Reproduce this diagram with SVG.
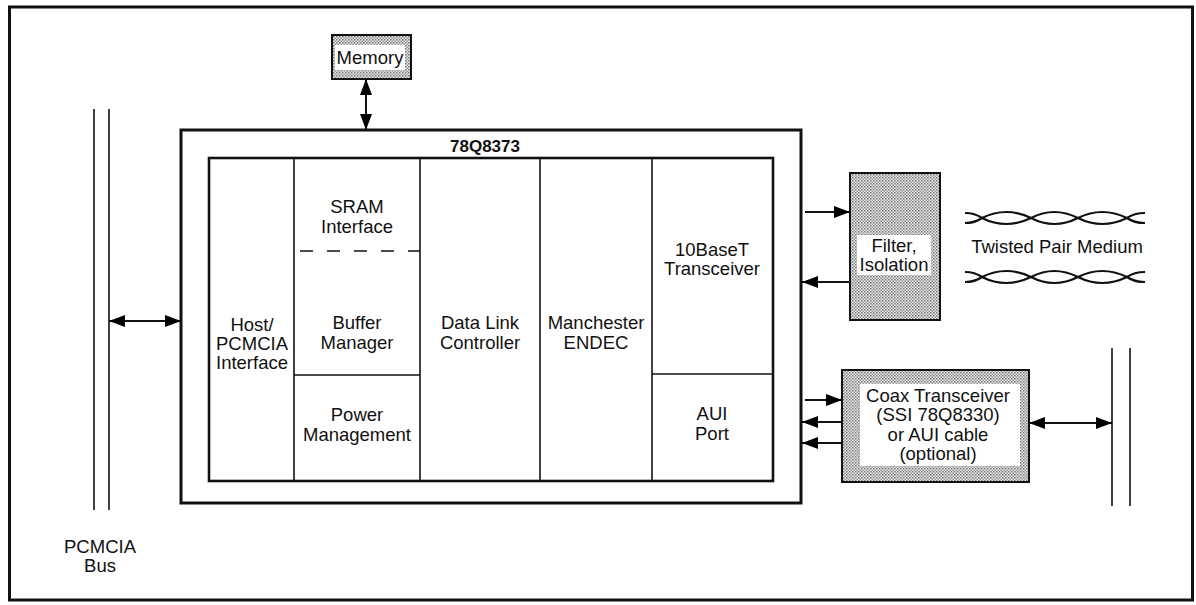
<svg xmlns="http://www.w3.org/2000/svg" width="1196" height="605" viewBox="0 0 1196 605">
<defs>
<pattern id="stip" width="3" height="3" patternUnits="userSpaceOnUse">
<rect width="3" height="3" fill="#e8e8e8"/>
<rect x="0" y="0" width="1.5" height="1.5" fill="#777"/>
<rect x="1.5" y="1.5" width="1.5" height="1.5" fill="#999"/>
</pattern>
<marker id="ah" markerUnits="userSpaceOnUse" markerWidth="16" markerHeight="12" viewBox="0 0 16 12" refX="16" refY="6" orient="auto-start-reverse">
<path d="M0,0 L16,6 L0,12 z" fill="#000"/>
</marker>
</defs>
<style>
text{font-family:"Liberation Sans",Arial,Helvetica,sans-serif;font-size:18.5px;fill:#111;text-anchor:middle}
.b{font-weight:bold;font-size:17px}
.box{fill:none;stroke:#111}
.sh{fill:url(#stip);stroke:#111;stroke-width:2}
.w{fill:#fff;stroke:none}
.ln{stroke:#111;stroke-width:1.6;fill:none}
.ar{stroke:#111;stroke-width:2;fill:none}
.tp{stroke:#111;stroke-width:2.2;fill:none}
</style>
<rect width="1196" height="605" fill="#fff"/>
<rect x="9.5" y="7" width="1183" height="593" fill="none" stroke="#111" stroke-width="3"/>

<g id="pcmcia-bus">
<line x1="94" y1="109" x2="94" y2="510" class="ln" stroke-width="2"/>
<line x1="109" y1="109" x2="109" y2="510" class="ln" stroke-width="2"/>
<text x="100" y="553">PCMCIA</text>
<text x="100" y="572">Bus</text>
</g>

<g id="memory">
<rect x="332" y="35" width="79" height="44" class="sh"/>
<rect x="335" y="45" width="70" height="25" class="w"/>
<text x="370" y="64">Memory</text>
</g>

<g id="chip-78Q8373">
<rect x="181" y="130" width="620" height="373" class="box" stroke-width="3"/>
<text x="485" y="152" class="b">78Q8373</text>
<rect x="209" y="158" width="564" height="323" class="box" stroke-width="2.6"/>
<line x1="294" y1="158" x2="294" y2="481" class="ln"/>
<line x1="420" y1="158" x2="420" y2="481" class="ln"/>
<line x1="540" y1="158" x2="540" y2="481" class="ln"/>
<line x1="652" y1="158" x2="652" y2="481" class="ln"/>
<line x1="294" y1="251" x2="420" y2="251" class="ln" stroke-dasharray="13,14" stroke-dashoffset="-6"/>
<line x1="294" y1="375" x2="420" y2="375" class="ln"/>
<line x1="652" y1="374" x2="773" y2="374" class="ln"/>
</g>

<g id="host-pcmcia-interface">
<text x="252" y="331">Host/</text>
<text x="252" y="350">PCMCIA</text>
<text x="252" y="369">Interface</text>
</g>
<g id="sram-interface">
<text x="357" y="213">SRAM</text>
<text x="357" y="233">Interface</text>
</g>
<g id="buffer-manager">
<text x="357" y="329">Buffer</text>
<text x="357" y="349">Manager</text>
</g>
<g id="power-management">
<text x="357" y="421">Power</text>
<text x="357" y="441">Management</text>
</g>
<g id="data-link-controller">
<text x="480" y="329">Data Link</text>
<text x="480" y="349">Controller</text>
</g>
<g id="manchester-endec">
<text x="596" y="329">Manchester</text>
<text x="596" y="349">ENDEC</text>
</g>
<g id="10baset-transceiver">
<text x="712" y="256">10BaseT</text>
<text x="712" y="275">Transceiver</text>
</g>
<g id="aui-port">
<text x="712" y="420">AUI</text>
<text x="712" y="440">Port</text>
</g>

<g id="filter-isolation">
<rect x="850" y="173" width="90" height="147" class="sh"/>
<rect x="857" y="235" width="74" height="40" class="w"/>
<text x="894" y="252">Filter,</text>
<text x="894" y="271">Isolation</text>
</g>

<g id="twisted-pair-medium">
<path class="tp" d="M965,213 Q975,213 982,218 Q1006,230 1031,218 Q1054,206 1078,218 Q1102,230 1127,218 Q1134,213 1145,213"/>
<path class="tp" d="M965,223 Q975,223 982,218 Q1006,206 1031,218 Q1054,230 1078,218 Q1102,206 1127,218 Q1134,223 1145,223"/>
<path class="tp" d="M965,272 Q975,272 982,277 Q1006,289 1031,277 Q1054,265 1078,277 Q1102,289 1127,277 Q1134,272 1145,272"/>
<path class="tp" d="M965,282 Q975,282 982,277 Q1006,265 1031,277 Q1054,289 1078,277 Q1102,265 1127,277 Q1134,282 1145,282"/>
<text x="1057" y="253">Twisted Pair Medium</text>
</g>

<g id="coax-transceiver">
<rect x="842" y="370" width="187" height="112" class="sh"/>
<rect x="860" y="384" width="160" height="82" class="w"/>
<text x="938" y="402">Coax Transceiver</text>
<text x="938" y="421">(SSI 78Q8330)</text>
<text x="938" y="441">or AUI cable</text>
<text x="938" y="460">(optional)</text>
</g>

<g id="coax-medium">
<line x1="1112" y1="348" x2="1112" y2="506" class="ln" stroke-width="2"/>
<line x1="1130" y1="348" x2="1130" y2="506" class="ln" stroke-width="2"/>
</g>

<g id="connectors">
<line x1="366" y1="79" x2="366" y2="130" class="ar" marker-start="url(#ah)" marker-end="url(#ah)"/>
<line x1="109" y1="321" x2="181" y2="321" class="ar" marker-start="url(#ah)" marker-end="url(#ah)"/>
<line x1="805" y1="212" x2="850" y2="212" class="ar" marker-end="url(#ah)"/>
<line x1="850" y1="282" x2="802" y2="282" class="ar" marker-end="url(#ah)"/>
<line x1="805" y1="400" x2="842" y2="400" class="ar" marker-end="url(#ah)"/>
<line x1="842" y1="422" x2="802" y2="422" class="ar" marker-end="url(#ah)"/>
<line x1="842" y1="443" x2="802" y2="443" class="ar" marker-end="url(#ah)"/>
<line x1="1029" y1="423" x2="1112" y2="423" class="ar" marker-start="url(#ah)" marker-end="url(#ah)"/>
</g>
</svg>
